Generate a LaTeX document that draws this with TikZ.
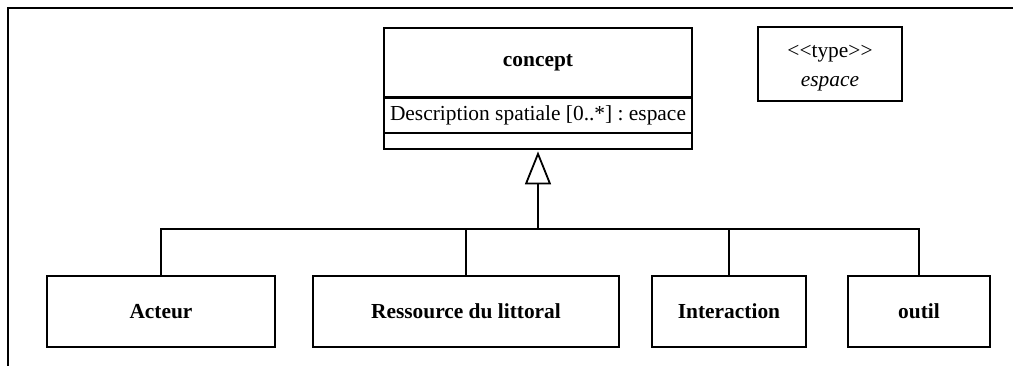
\documentclass[tikz,border=0pt]{standalone}
\usepackage{fontspec}
\setmainfont{Liberation Serif}
\usetikzlibrary{arrows.meta}
\frenchspacing
\begin{document}
\begin{tikzpicture}[x=1pt,y=-1pt,line width=1.8pt,
  box/.style={draw,rectangle,inner sep=0pt,font=\fontsize{21.4}{25}\selectfont},
  classbox/.style={box,font=\fontsize{21.4}{25}\selectfont\bfseries},
  frameline/.style={line width=2.3pt,line cap=rect}]
\useasboundingbox (0,0) rectangle (1013,366);
% frame
\draw[frameline] (8,8) -- (1013,8);
\draw[frameline] (8,8) -- (8,366);
% concept class
\node[classbox,minimum width=308pt,minimum height=69pt] (cname) at (538,62.5) {concept};
\node[box,minimum width=308pt,minimum height=36pt] (cattr) at (538,115) {Description spatiale [0..*] : espace};
\node[box,minimum width=308pt,minimum height=16pt] (cops) at (538,141) {};
\draw[line width=3.2pt] (cname.south west) -- (cname.south east);
% type box
\node[box,minimum width=144pt,minimum height=74pt] (type) at (830,64) {};
\node[inner sep=0pt,align=center,font=\fontsize{21.4}{29}\selectfont] (typetext) at (830,68.5) {<\kern0pt<type>\kern0pt>\\\textit{espace}};
% subclasses
\node[classbox,minimum width=228pt,minimum height=71pt] (acteur) at (161,311.5) {Acteur};
\node[classbox,minimum width=306pt,minimum height=71pt] (ressource) at (466,311.5) {Ressource du littoral};
\node[classbox,minimum width=154pt,minimum height=71pt] (interaction) at (729,311.5) {Interaction};
\node[classbox,minimum width=142pt,minimum height=71pt] (outil) at (919,311.5) {outil};
\coordinate (j) at (538,229);
\draw (acteur.north) |- (j) -| (outil.north);
\draw (ressource.north) -- (ressource.north |- j);
\draw (interaction.north) -- (interaction.north |- j);
\draw[-{Triangle[open,length=33pt,width=26pt]},shorten >=1.5pt] (j) -- (cops.south);
\end{tikzpicture}
\end{document}
